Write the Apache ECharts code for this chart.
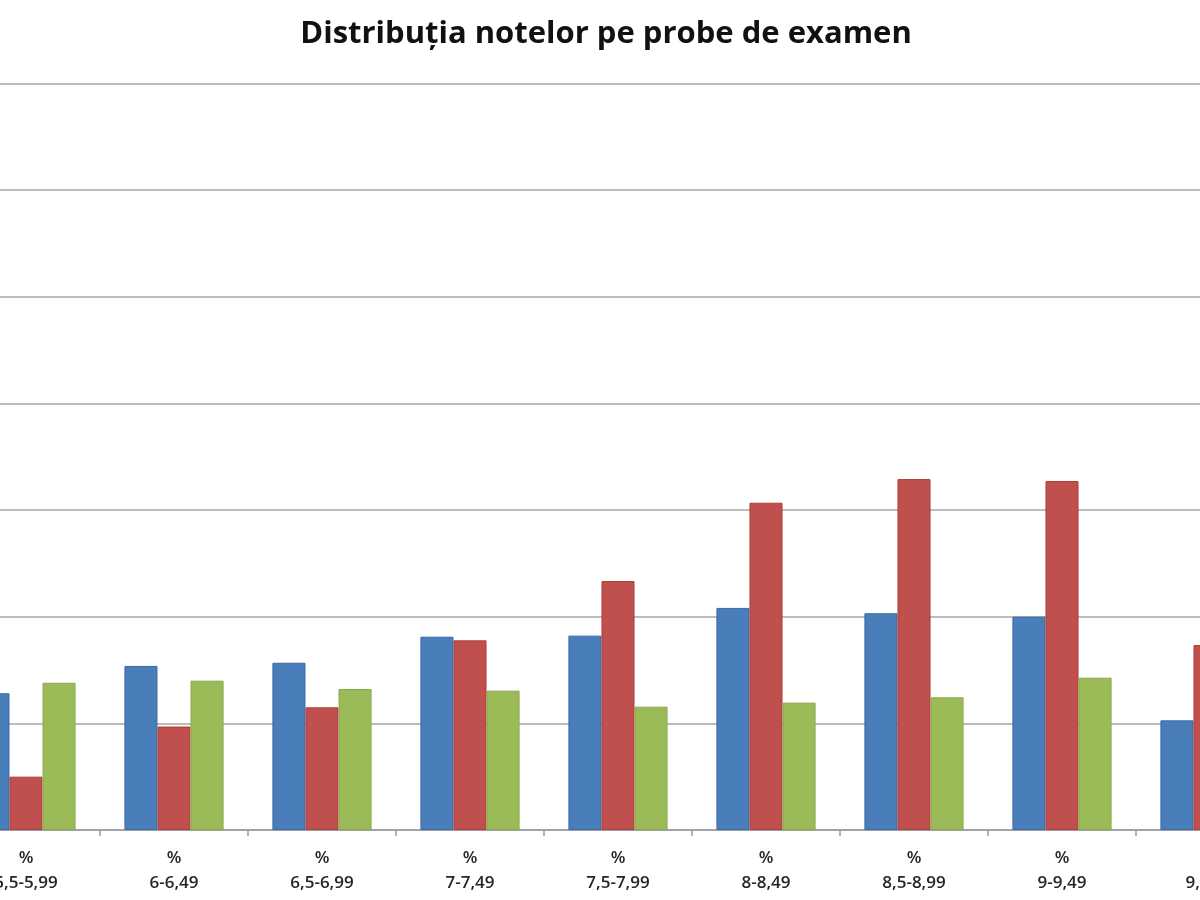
<!DOCTYPE html>
<html>
<head>
<meta charset="utf-8">
<script src="https://cdn.jsdelivr.net/npm/echarts@6/dist/echarts.min.js"></script>
<style>
html,body{margin:0;padding:0;background:#fff;overflow:hidden;width:1200px;height:900px}
#c{position:absolute;top:0;left:-108px;width:1440px;height:900px}
</style>
</head>
<body>
<div id="c"></div>
<script>
const categories = ['%\n5,5-5,99', '%\n6-6,49', '%\n6,5-6,99', '%\n7-7,49', '%\n7,5-7,99', '%\n8-8,49', '%\n8,5-8,99', '%\n9-9,49', '%\n9,5-10'];
const seriesNames = ['Proba 1', 'Proba 2', 'Proba 3'];
const blueValues  = [6.41, 7.69, 7.84, 9.06, 9.11, 10.41, 10.16, 10.0, 5.14];
const redValues   = [2.50, 4.85, 5.75, 8.89, 11.67, 15.34, 16.45, 16.36, 8.67];
const greenValues = [6.90, 7.00, 6.61, 6.53, 5.78, 5.97, 6.22, 7.14, 3.0];
const yTicks = { min: 0, max: 35, interval: 5 };

const chart = echarts.init(document.getElementById('c'), null, { renderer: 'canvas' });
const catW = 148;
const gridLeft = 60;

function barSeries(name, data, color, border) {
  return {
    name: name, type: 'bar', data: data,
    barGap: '0%', barCategoryGap: '33%',
    itemStyle: { color: color, borderColor: border, borderWidth: 1 }
  };
}

chart.setOption({
  backgroundColor: '#ffffff',
  animation: false,
  title: {
    text: 'Distribuția notelor pe probe de examen',
    left: 709, top: 14, textAlign: 'center',
    textStyle: { fontFamily: 'Open Sans', fontWeight: 'bold', fontSize: 31, color: '#111' }
  },
  grid: { left: gridLeft, width: catW * categories.length, top: 83.3, bottom: 70, containLabel: false },
  xAxis: {
    type: 'category', data: categories,
    axisLine: { lineStyle: { color: '#9a9a9a', width: 1.5 } },
    axisTick: { show: true, length: 6, lineStyle: { color: '#9a9a9a', width: 1.5 } },
    axisLabel: { interval: 0, margin: 16, fontSize: 17, fontWeight: 600, lineHeight: 25, color: '#262626', fontFamily: 'Open Sans' }
  },
  yAxis: {
    type: 'value', min: yTicks.min, max: yTicks.max, interval: yTicks.interval,
    axisLine: { show: false }, axisTick: { show: false },
    axisLabel: { show: true, color: '#333', fontSize: 14 },
    splitLine: { lineStyle: { color: '#a6a6a6', width: 1.6 } }
  },
  series: [
    barSeries(seriesNames[0], blueValues, '#4a7ebb', '#3a69a3'),
    barSeries(seriesNames[1], redValues, '#c0504d', '#ad3e3b'),
    barSeries(seriesNames[2], greenValues, '#9bbb59', '#8aa94b')
  ]
});
</script>
</body>
</html>
